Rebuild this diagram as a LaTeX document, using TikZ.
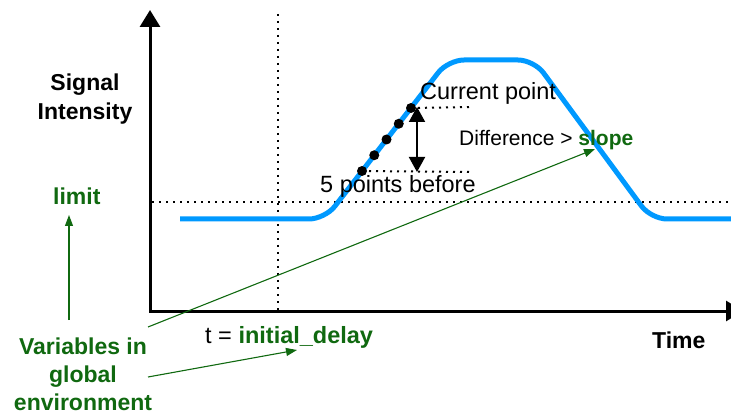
\documentclass[tikz,border=0pt]{standalone}
\usepackage{fontspec}
\setmainfont{Liberation Sans}
\usetikzlibrary{arrows.meta}
\definecolor{sigblue}{RGB}{0,153,255}
\definecolor{vargreen}{RGB}{16,105,16}

\begin{document}
\begin{tikzpicture}[x=1pt,y=-1pt,
  axis/.style={line width=3pt, line join=miter},
  guide/.style={line width=2pt, dash pattern=on 2pt off 5pt},
  signal/.style={sigblue, line width=5pt, rounded corners=16pt},
  lbl/.style={inner sep=0pt, font=\fontsize{23.5}{28}\selectfont},
  small/.style={inner sep=0pt, font=\fontsize{21}{25}\selectfont},
  var/.style={inner sep=0pt, font=\fontsize{23}{28}\selectfont\bfseries, text=vargreen},
  title/.style={inner sep=0pt, font=\fontsize{23}{28.5}\selectfont\bfseries},
  pointer/.style={vargreen, line width=1.1pt, -{Triangle[length=11pt,width=8pt]}},
  sample/.style={circle, fill=black, inner sep=0pt, minimum size=10pt}]

\useasboundingbox (0,0) rectangle (731,414);

% axes
\coordinate (ytop) at (150,10);
\coordinate (orig) at (150,311);
\coordinate (xend) at (743,311);
\draw[axis, {Triangle[width=20pt,length=17pt]}-{Triangle[width=20pt,length=17pt]}]
  (ytop) -- (orig) -- (xend);

% guide lines: start time and limit level
\coordinate (tdtop) at (278,14);
\coordinate (tdbot) at (278,310);
\draw[guide] (tdtop) -- (tdbot);
\coordinate (limL) at (152,202);
\coordinate (limR) at (731,202);
\draw[guide] (limL) -- (limR);

% signal curve
\draw[signal] (180,219) -- (325,219) -- (448,60) -- (534,60) -- (651,219) -- (731,219);

% sample points on the rising edge
\foreach \i in {0,...,4} {
  \node[sample] (s\i) at ({362+12.25*\i},{171-15.75*\i}) {};
}

% difference between current point and five points before
\coordinate (curR) at (472,107);
\coordinate (befR) at (472,172);
\draw[guide] (s4.center) -- (curR);
\draw[guide] (s0.center) -- (befR);
\coordinate (dtop) at (417,107);
\coordinate (dbot) at (417,172);
\draw[line width=2pt, {Triangle[width=16pt,length=15pt]}-{Triangle[width=16pt,length=15pt]}] (dtop) -- (dbot);

% labels
\node[lbl, anchor=base west] (cur) at (420,100) {Current point};
\node[lbl, anchor=base west] (bef) at (320,193) {5 points before};
\node[small, anchor=base west] (diff) at (459,146) {Difference > \textcolor{vargreen}{\bfseries slope}};
\node[title, align=center] (ylab) at (85,99) {Signal\\Intensity};
\node[title, anchor=base west] (xlab) at (652,348) {Time};
\node[var, anchor=base west] (lim) at (53,205) {limit};
\node[lbl, anchor=base west] (tlab) at (205,343) {t = \textcolor{vargreen}{\bfseries initial\_delay}};
\node[var, align=center] (vars) at (83,374) {Variables in\\global\\environment};

% pointers from the global variables
\coordinate (p1s) at (69,320);
\coordinate (p1e) at (69,215);
\draw[pointer] (p1s) -- (p1e);
\coordinate (p2s) at (148,327);
\coordinate (p2e) at (595,149);
\draw[pointer] (p2s) -- (p2e);
\coordinate (p3s) at (148,377);
\coordinate (p3e) at (297,350);
\draw[pointer] (p3s) -- (p3e);
\end{tikzpicture}
\end{document}
